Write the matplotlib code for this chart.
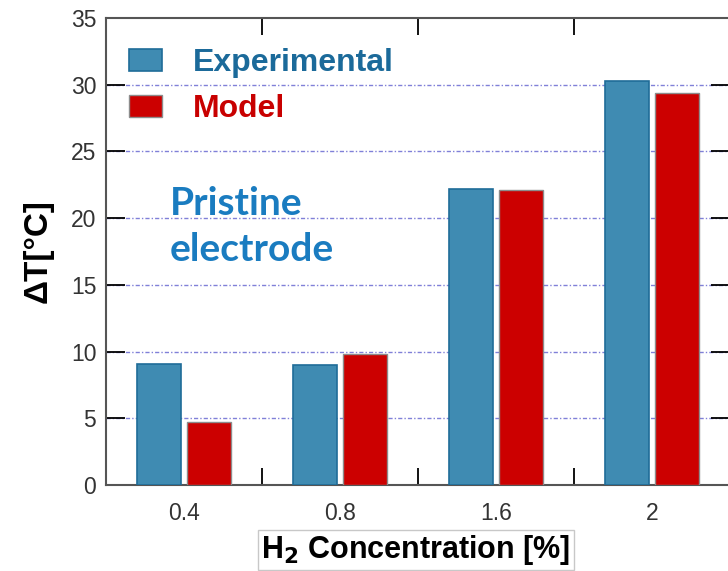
import numpy as np
import matplotlib
matplotlib.use("Agg")
import matplotlib.pyplot as plt

# data
concentrations = ["0.4", "0.8", "1.6", "2"]
experimental = [9.1, 9.0, 22.2, 30.3]
model = [4.7, 9.8, 22.1, 29.4]

plt.rcParams["font.family"] = ["Liberation Sans", "DejaVu Sans"]

fig = plt.figure(figsize=(7.28, 5.71), dpi=100)
ax = fig.add_axes([106 / 728, 86 / 571, 624 / 728, 467 / 571])

x = np.arange(len(concentrations))
w = 0.283
off = 0.159
ax.bar(x - off, experimental, w, color="#3f8bb2", edgecolor="#1f6c98",
       linewidth=1.2, label="Experimental", zorder=3)
ax.bar(x + off, model, w, color="#cc0000", edgecolor="#8c8c8c",
       linewidth=1.0, label="Model", zorder=3)

ax.set_xlim(-0.5, 3.5)
ax.set_ylim(0, 35)
ax.set_yticks(np.arange(0, 36, 5))
ax.set_xticks(x)
ax.set_xticklabels(concentrations)
ax.set_xticks(x[:-1] + 0.5, minor=True)

# grid lines only at the inner ticks
for yv in range(5, 35, 5):
    ax.axhline(yv, color="#8080d8", lw=1.0,
               linestyle=(0, (3, 1.5, 1, 1.5)), zorder=1)

ax.tick_params(axis="y", which="major", direction="in", length=13.5,
               width=1.3, right=True, labelsize=16.5, labelcolor="#333333",
               pad=7)
ax.tick_params(axis="x", which="major", length=0, labelsize=16.5,
               labelcolor="#333333", pad=12)
ax.tick_params(axis="x", which="minor", direction="in", length=12,
               width=1.3, top=True, bottom=True)
for s in ax.spines.values():
    s.set_color("#555555")
    s.set_linewidth(1.5)

ax.set_ylabel("ΔT[°C]", fontsize=24, fontweight="bold", labelpad=12)
fig.text(416 / 728, 1 - 550 / 571, "H$_\\mathbf{2}$ Concentration [%]",
         fontsize=22, fontweight="bold", ha="center", va="center",
         bbox=dict(boxstyle="square,pad=0.1", fc="white", ec="#c8c8c8",
                   lw=1))

leg = ax.legend(loc="upper left", bbox_to_anchor=(-0.01, 0.997),
                frameon=False, prop={"size": 23, "weight": "bold"},
                handlelength=1.05, handleheight=0.72, handletextpad=0.95,
                labelspacing=0.5)
for t, c in zip(leg.get_texts(), ["#1b6a9a", "#c80000"]):
    t.set_color(c)

ax.text(0.1026, 0.64, "Pristine\nelectrode", transform=ax.transAxes,
        fontsize=28, fontweight="bold", color="#1a7cc0", family="Lato",
        linespacing=1.38, va="top", ha="left")

fig.savefig("out.png", dpi=100)
